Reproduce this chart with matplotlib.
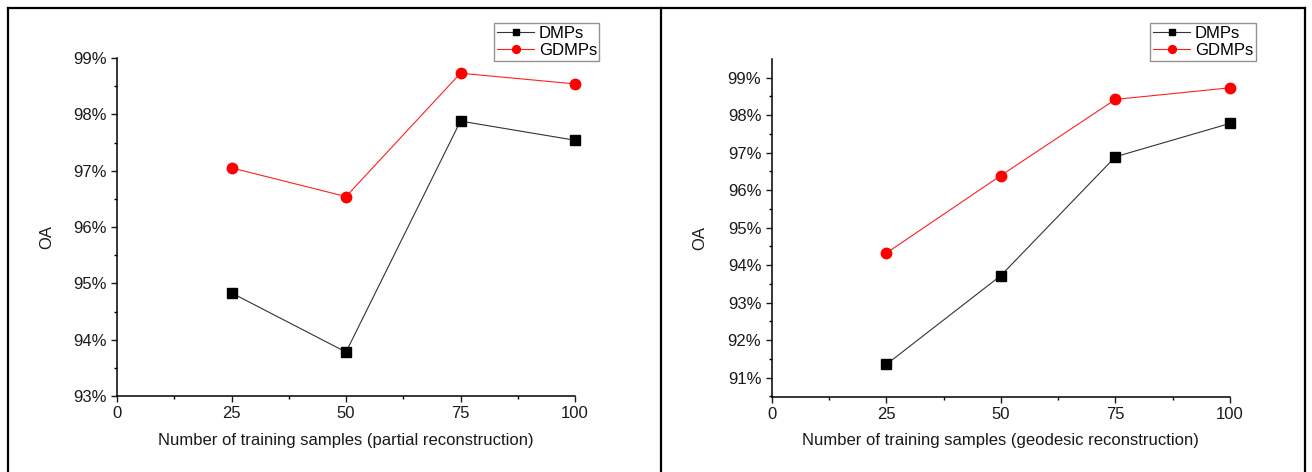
import matplotlib
matplotlib.use("Agg")
import matplotlib.pyplot as plt
from matplotlib.ticker import MultipleLocator, FuncFormatter
from matplotlib.lines import Line2D

plt.rcParams['font.family'] = ['Liberation Sans', 'DejaVu Sans']

# Training-sample counts
samples = [25, 50, 75, 100]

# Overall accuracy (%) with partial reconstruction
partial_dmps = [94.83, 93.78, 97.88, 97.54]
partial_gdmps = [97.05, 96.54, 98.73, 98.54]

# Overall accuracy (%) with geodesic reconstruction
geodesic_dmps = [91.35, 93.72, 96.89, 97.78]
geodesic_gdmps = [94.32, 96.39, 98.42, 98.73]

x_ticks = [0, 25, 50, 75, 100]
series_names = ["DMPs", "GDMPs"]

W, H = 1312, 472
fig = plt.figure(figsize=(W / 100, H / 100), dpi=100)

FS = 12
TXT = "#1a1a1a"


def px_axes(x0, y0, x1, y1):
    return fig.add_axes([x0 / W, 1 - y1 / H, (x1 - x0) / W, (y1 - y0) / H])


def style(ax, ylim, xlabel):
    for s in ("top", "right"):
        ax.spines[s].set_visible(False)
    for s in ("left", "bottom"):
        ax.spines[s].set_linewidth(1.1)
    ax.set_xlim(0, 100)
    ax.set_ylim(*ylim)
    ax.set_xticks(x_ticks)
    ax.xaxis.set_minor_locator(MultipleLocator(12.5))
    ax.yaxis.set_major_locator(MultipleLocator(1))
    ax.yaxis.set_minor_locator(MultipleLocator(0.5))
    ax.yaxis.set_major_formatter(FuncFormatter(lambda v, p: f"{v:.0f}%"))
    ax.tick_params(which="major", direction="out", length=4.5, width=1.0,
                   labelsize=FS, colors=TXT, pad=3)
    ax.tick_params(which="minor", direction="out", length=2.5, width=1.0)
    ax.set_xlabel(xlabel, fontsize=FS, color=TXT, labelpad=8)
    ax.set_ylabel("OA", fontsize=FS, color=TXT)


def draw(ax, dmps, gdmps):
    ax.plot(samples, dmps, color="#333333", lw=0.8, marker="s", ms=6.5,
            mfc="black", mec="black", clip_on=False, label=series_names[0])
    ax.plot(samples, gdmps, color="#ff2020", lw=0.8, marker="o", ms=7.5,
            mfc="red", mec="red", clip_on=False, label=series_names[1])


ax1 = px_axes(117, 58, 575, 396)
draw(ax1, partial_dmps, partial_gdmps)
style(ax1, (93, 99), "Number of training samples (partial reconstruction)")
ax1.yaxis.set_label_coords(-0.137, 0.47)

ax2 = px_axes(771.7, 59.3, 1230, 396.7)
draw(ax2, geodesic_dmps, geodesic_gdmps)
style(ax2, (90.49, 99.49), "Number of training samples (geodesic reconstruction)")
ax2.yaxis.set_label_coords(-0.14, 0.47)

for ax, (lx0, ly0, lx1, ly1) in ((ax1, (494, 22.7, 599, 63.3)),
                                 (ax2, (1150, 22.7, 1255.7, 63.3))):
    leg = ax.legend(loc="upper left",
                    bbox_to_anchor=(lx0 / W, 1 - ly1 / H, (lx1 - lx0) / W, (ly1 - ly0) / H),
                    bbox_transform=fig.transFigure, mode="expand",
                    fontsize=FS, frameon=True, fancybox=False, borderpad=0.2,
                    handlelength=2.2, handletextpad=0.3, labelspacing=0.1,
                    borderaxespad=0, markerscale=0.75)
    leg.get_frame().set_edgecolor("#777777")
    leg.get_frame().set_linewidth(1.0)

# Table-style frame around the two panels
frame_kw = dict(color="black", lw=1.6, transform=fig.transFigure)
for line in (
    Line2D([8 / W, 1305 / W], [1 - 8 / H, 1 - 8 / H], **frame_kw),
    Line2D([8 / W, 8 / W], [0, 1 - 8 / H], **frame_kw),
    Line2D([660.5 / W, 660.5 / W], [0, 1 - 8 / H], **frame_kw),
    Line2D([1305 / W, 1305 / W], [0, 1 - 8 / H], **frame_kw),
):
    fig.add_artist(line)

fig.savefig("out.png", dpi=100)
